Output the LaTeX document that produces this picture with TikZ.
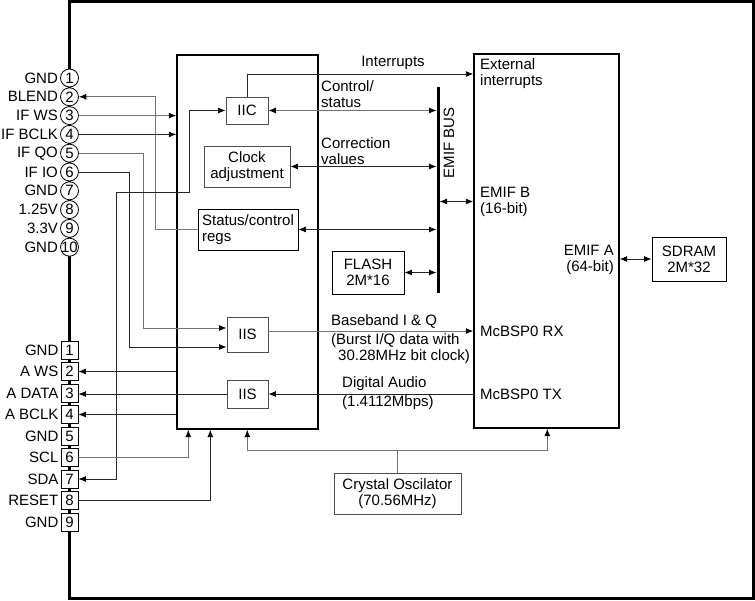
\documentclass[tikz,border=0pt]{standalone}
\usepackage{fontspec}
\setmainfont{Liberation Sans}
\usetikzlibrary{arrows.meta,positioning}

\begin{document}
\begin{tikzpicture}[x=1pt,y=-1pt,
    font=\fontsize{15}{16}\selectfont,
    >={Latex[length=7.5pt,width=6pt,black]},
    wire/.style={black!85,line width=0.9pt},
    gwire/.style={black!55,line width=0.9pt},
    blk/.style={draw,line width=1.4pt,inner sep=0pt},
    box/.style={draw=black!70,line width=0.9pt,inner sep=2pt,align=center},
    pinc/.style={draw,circle,fill=white,minimum size=18pt,inner sep=0pt,line width=0.8pt},
    pinb/.style={draw,fill=white,minimum width=17pt,minimum height=18pt,inner sep=0pt,line width=0.8pt},
    pinlab/.style={inner sep=2pt},
    txt/.style={inner sep=0pt,align=left}]
  \useasboundingbox (0,0) rectangle (755,601);
  % Board outline
  \draw[line width=2.6pt] (69.5,1.5) rectangle (753.5,598.5);
  % Upper connector
  \foreach \n/\lab in {1/GND,2/BLEND,3/IF WS,4/IF BCLK,5/IF QO,6/IF IO,7/GND,8/1.25V,9/3.3V,10/GND}
    \node[pinc,label={[pinlab]left:\lab}] (u\n) at (69.5,{59.2+18.8*\n}) {\makebox[0pt]{\n}};
  % Lower connector
  \foreach \n/\lab in {1/GND,2/A WS,3/A DATA,4/A BCLK,5/GND,6/SCL,7/SDA,8/RESET,9/GND}
    \node[pinb,label={[pinlab]left:\lab}] (l\n) at (69.5,{328.5+21.5*\n}) {\n};
  % Main blocks
  \node[blk,minimum width=141pt,minimum height=374pt] (fpga) at (247.5,242) {};
  \node[blk,minimum width=145pt,minimum height=374pt] (dsp) at (546.5,241) {};
  % Inner blocks
  \node[box,minimum width=42pt,minimum height=27pt] (iic) at (247,110.5) {IIC};
  \node[box,minimum width=86pt,minimum height=41pt] (clk) at (247,166.5) {Clock\\adjustment};
  \node[box,draw=black,align=left,minimum width=100pt,minimum height=41pt] (regs) at (248,229.5) {Status/control\\regs};
  \node[box,draw=black,minimum width=72pt,minimum height=43pt] (flash) at (368,272.5) {FLASH\\2M*16};
  \node[box,minimum width=41pt,minimum height=35pt] (iisA) at (247.5,334.5) {IIS};
  \node[box,minimum width=41pt,minimum height=28pt] (iisB) at (247.5,394) {IIS};
  \node[box,draw=black,minimum width=74pt,minimum height=44pt] (sdram) at (689,259) {SDRAM\\2M*32};
  \node[box,minimum width=127pt,minimum height=41pt] (xtal) at (397.5,493.5) {Crystal Oscilator\\(70.56MHz)};
  % EMIF bus
  \coordinate (busT) at (438,87);
  \coordinate (busB) at (438,293);
  \draw[line width=3pt] (busT) -- (busB);
  \node[rotate=90,inner sep=0pt] (busLab) at (449,143) {EMIF BUS};
  % Port labels in the DSP
  \node[txt,anchor=west] (ext) at (480,74) {External\\interrupts};
  \node[txt,anchor=west] (emifb) at (480,201.5) {EMIF B\\(16-bit)};
  \node[txt,anchor=east,align=right] (emifa) at (614,260) {EMIF A\\(64-bit)};
  \node[txt,anchor=west] (rx) at (480,331) {McBSP0 RX};
  \node[txt,anchor=west] (tx) at (480,394) {McBSP0 TX};
  % Signal labels
  \node[inner sep=0pt] (irqLab) at (393,63) {Interrupts};
  \node[txt,anchor=west] (ctlLab) at (321,94) {Control/\\status};
  \node[txt,anchor=west] (corLab) at (321,151) {Correction\\values};
  \node[txt,anchor=west] (bbLab) at (331,321) {Baseband I \& Q};
  \node[txt,anchor=west] (burst) at (331,348.5) {(Burst I/Q data with\\\hspace*{7pt}30.28MHz bit clock)};
  \node[txt,anchor=west] (daLab) at (342,384) {Digital Audio};
  \node[txt,anchor=west] (rateLab) at (342,403) {(1.4112Mbps)};
  % Upper connector wiring
  \draw[gwire,->] (regs.west) -| ([xshift=76.5]u2.east) -- (u2.east);
  \draw[gwire,->] (u3.east) -- (u3.east -| fpga.west);
  \draw[wire,->] (u4.east) -- (u4.east -| fpga.west);
  \coordinate (qoBend) at (143,328);
  \draw[gwire,->] (u5.east) -| (qoBend) -- (qoBend -| iisA.west);
  \coordinate (ioBend) at (129,347);
  \draw[wire,->] (u6.east) -| (ioBend) -- (ioBend -| iisA.west);
  % SDA to IIC
  \coordinate (sdaA) at (116,192);
  \coordinate (sdaB) at (189,192);
  \draw[wire,<->] (l7.east) -| (sdaA) -- (sdaB) |- (iic.west);
  % Lower connector wiring
  \draw[wire,->] (l2.east -| fpga.west) -- (l2.east);
  \draw[wire,->] (iisB.west) -- (iisB.west -| l3.east);
  \draw[wire,->] (l4.east -| fpga.west) -- (l4.east);
  \draw[gwire,->] (l6.east) -| ([xshift=12]fpga.south west);
  \draw[wire,->] (l8.east) -| ([xshift=34]fpga.south west);
  % Bus connections
  \draw[wire,->] (iic.north) |- (ext.west -| dsp.west);
  \draw[gwire,<->,shorten >=1.5pt] (iic.east) -- (iic.east -| busT);
  \draw[wire,<->,shorten >=1.5pt] (clk.east) -- (clk.east -| busT);
  \draw[wire,<->,shorten >=1.5pt] (regs.east) -- (regs.east -| busT);
  \draw[wire,<->,shorten >=1.5pt] (flash.east) -- (flash.east -| busT);
  \draw[wire,<->,shorten <=1.5pt] (emifb.west -| busT) -- (emifb.west -| dsp.west);
  \draw[wire,<->] (sdram.west -| dsp.east) -- (sdram.west);
  % Serial data paths
  \draw[gwire,->] (rx.west -| iisA.east) -- (rx.west -| dsp.west);
  \draw[wire,->] (tx.west -| dsp.west) -- (tx.west -| iisB.east);
  % Clock distribution
  \draw[gwire] (xtal.north) -- ++(0,-22) coordinate (xj);
  \draw[gwire,->] (xj) -| ([xshift=71]fpga.south west);
  \draw[gwire,->] (xj) -| ([xshift=74]dsp.south west);
\end{tikzpicture}
\end{document}
